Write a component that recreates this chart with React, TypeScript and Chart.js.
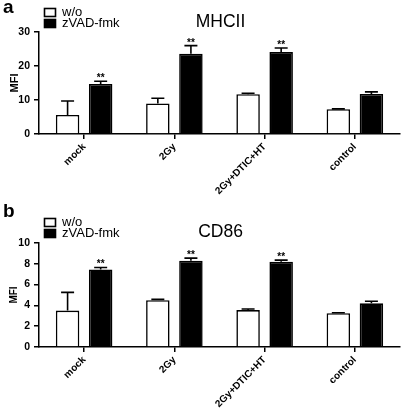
import React, { useEffect, useRef } from 'react';
import { Chart, registerables } from 'chart.js';

Chart.register(...registerables);

const FONT = '"Liberation Sans", Arial, Helvetica, sans-serif';

const categories = ['mock', '2Gy', '2Gy+DTIC+HT', 'control'];
const seriesNames = ['w/o', 'zVAD-fmk'];

// Panel a: MHCII
const mhcWo = [5.6, 9.0, 11.7, 7.3];
const mhcWoErr = [4.1, 1.5, 0.3, 0.1];
const mhcZvad = [14.7, 23.6, 24.1, 11.8];
const mhcZvadErr = [0.8, 2.4, 1.2, 0.6];
const mhcSig = ['**', '**', '**', ''];
const mhcTicks = [0, 10, 20, 30];

// Panel b: CD86
const cd86Wo = [3.5, 4.5, 3.55, 3.25];
const cd86WoErr = [1.75, 0.08, 0.1, 0.05];
const cd86Zvad = [7.45, 8.3, 8.2, 4.2];
const cd86ZvadErr = [0.2, 0.25, 0.15, 0.2];
const cd86Sig = ['**', '**', '**', ''];
const cd86Ticks = [0, 2, 4, 6, 8, 10];

type Panel = {
  letter: string;
  title: string;
  wo: number[];
  woErr: number[];
  zv: number[];
  zvErr: number[];
  sig: string[];
  ticks: number[];
  height: number;
  plotTop: number;
  xAxisH: number;
  titleBase: number;
  legendTop: number;
  letterBase: number;
  mfiSize: number;
};

const panels: Panel[] = [
  {
    letter: 'a', title: 'MHCII', wo: mhcWo, woErr: mhcWoErr, zv: mhcZvad, zvErr: mhcZvadErr,
    sig: mhcSig, ticks: mhcTicks, height: 200, plotTop: 32, xAxisH: 66, titleBase: 27,
    legendTop: 8, letterBase: 13, mfiSize: 11,
  },
  {
    letter: 'b', title: 'CD86', wo: cd86Wo, woErr: cd86WoErr, zv: cd86Zvad, zvErr: cd86ZvadErr,
    sig: cd86Sig, ticks: cd86Ticks, height: 213, plotTop: 43, xAxisH: 66, titleBase: 37,
    legendTop: 18, letterBase: 17, mfiSize: 10,
  },
];

function makeOverlay(p: Panel) {
  return {
    id: 'overlay',
    afterDatasetsDraw(chart: any) {
      const ctx = chart.ctx as CanvasRenderingContext2D;
      const ys = chart.scales.y;
      const sets: [number[], number[]][] = [[p.wo, p.woErr], [p.zv, p.zvErr]];
      ctx.save();
      ctx.strokeStyle = '#000';
      ctx.fillStyle = '#000';
      ctx.lineWidth = 1.6;
      sets.forEach(([vals, errs], di) => {
        const meta = chart.getDatasetMeta(di);
        meta.data.forEach((el: any, i: number) => {
          const x = el.x;
          const y0 = ys.getPixelForValue(vals[i]);
          const y1 = ys.getPixelForValue(vals[i] + errs[i]);
          ctx.beginPath();
          ctx.moveTo(x, y0);
          ctx.lineTo(x, y1);
          ctx.moveTo(x - 6.5, y1);
          ctx.lineTo(x + 6.5, y1);
          ctx.stroke();
          if (di === 1 && p.sig[i]) {
            ctx.font = `bold 10px ${FONT}`;
            ctx.textAlign = 'center';
            ctx.textBaseline = 'alphabetic';
            ctx.fillText(p.sig[i], x, y1);
          }
        });
      });
      ctx.restore();
    },
    afterDraw(chart: any) {
      const ctx = chart.ctx as CanvasRenderingContext2D;
      const area = chart.chartArea;
      ctx.save();
      ctx.fillStyle = '#000';
      // panel letter
      ctx.font = `bold 19px ${FONT}`;
      ctx.textAlign = 'left';
      ctx.textBaseline = 'alphabetic';
      ctx.fillText(p.letter, 3, p.letterBase);
      // title
      ctx.font = `17.5px ${FONT}`;
      ctx.textAlign = 'center';
      ctx.fillText(p.title, (area.left + area.right) / 2 + 1, p.titleBase);
      // legend
      const colors = ['#fff', '#000'];
      seriesNames.forEach((name, i) => {
        const top = p.legendTop + i * 11;
        ctx.fillStyle = colors[i];
        ctx.fillRect(44.5, top + 0.5, 11, 8);
        ctx.strokeStyle = '#000';
        ctx.lineWidth = 1.6;
        ctx.strokeRect(44.5, top + 0.5, 11, 8);
        ctx.fillStyle = '#000';
        ctx.font = `13px ${FONT}`;
        ctx.textAlign = 'left';
        ctx.textBaseline = 'middle';
        ctx.fillText(name, 62, top + 4.5);
      });
      ctx.restore();
    },
  };
}

function PanelChart({ p, top }: { p: Panel; top: number }) {
  const ref = useRef<HTMLCanvasElement | null>(null);
  useEffect(() => {
    if (!ref.current) return;
    const gridOpts = {
      display: true,
      drawOnChartArea: false,
      drawTicks: true,
      tickLength: 5,
      color: '#000',
      lineWidth: 1.5,
      offset: false,
    };
    const chart = new Chart(ref.current, {
      type: 'bar',
      data: {
        labels: categories,
        datasets: [
          {
            label: seriesNames[0],
            data: p.wo,
            backgroundColor: '#fff',
            borderColor: '#000',
            borderWidth: 1.6,
            barPercentage: 0.71,
            categoryPercentage: 0.733,
          },
          {
            label: seriesNames[1],
            data: p.zv,
            backgroundColor: '#000',
            borderColor: '#000',
            borderWidth: 1.6,
            barPercentage: 0.71,
            categoryPercentage: 0.733,
          },
        ],
      },
      options: {
        responsive: false,
        animation: false,
        layout: { padding: { top: p.plotTop, right: 6, left: 0, bottom: 0 } },
        plugins: {
          legend: { display: false },
          title: { display: false },
          tooltip: { enabled: false },
        },
        scales: {
          x: {
            grid: gridOpts,
            border: { display: true, color: '#000', width: 1.5 },
            ticks: {
              color: '#000',
              font: { family: FONT, size: 10, weight: 'bold' },
              minRotation: 45,
              maxRotation: 45,
              padding: 2,
              autoSkip: false,
            },
            afterFit: (s: any) => {
              s.height = p.xAxisH;
            },
          },
          y: {
            min: 0,
            max: p.ticks[p.ticks.length - 1],
            afterBuildTicks: (s: any) => {
              s.ticks = p.ticks.map((v) => ({ value: v }));
            },
            grid: gridOpts,
            border: { display: true, color: '#000', width: 1.5 },
            ticks: {
              color: '#000',
              font: { family: FONT, size: 10.5, weight: 'bold' },
              padding: 4,
            },
            title: {
              display: true,
              text: 'MFI',
              color: '#000',
              font: { family: FONT, size: p.mfiSize, weight: 'bold' },
              padding: { top: 8, bottom: 0 },
            },
            afterFit: (s: any) => {
              s.width = 39;
            },
          },
        },
      } as any,
      plugins: [makeOverlay(p)],
    });
    return () => chart.destroy();
  }, [p]);
  return (
    <canvas
      ref={ref}
      width={406}
      height={p.height}
      style={{ position: 'absolute', left: 0, top, width: 406, height: p.height, display: 'block' }}
    />
  );
}

export default function App() {
  useEffect(() => {
    document.body.style.margin = '0';
    document.body.style.background = '#fff';
  }, []);
  return (
    <div style={{ position: 'relative', width: 406, height: 413, background: '#fff' }}>
      <PanelChart p={panels[0]} top={0} />
      <PanelChart p={panels[1]} top={200} />
    </div>
  );
}
